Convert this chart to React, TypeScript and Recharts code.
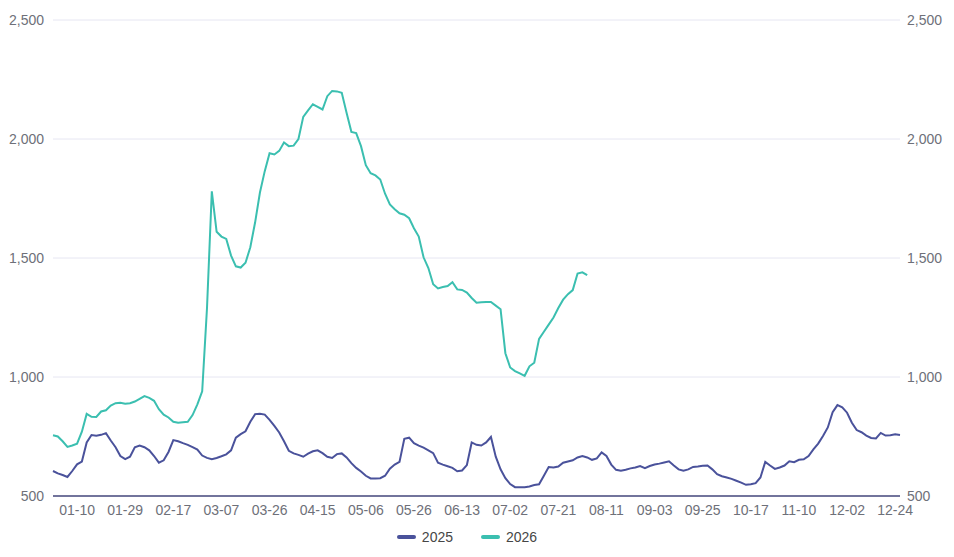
import React from "react";
import { LineChart, Line, XAxis, YAxis, CartesianGrid, Legend } from "recharts";

const dates: string[] = [
  "01-01","01-03","01-05","01-06","01-08","01-10",
  "01-12","01-14","01-16","01-18","01-20","01-21","01-23","01-25","01-27","01-29",
  "01-31","02-02","02-04","02-06","02-08","02-09","02-11","02-13","02-15","02-17",
  "02-19","02-21","02-22","02-24","02-26","02-28","03-02","03-03","03-05","03-07",
  "03-09","03-11","03-13","03-15","03-17","03-18","03-20","03-22","03-24","03-26",
  "03-28","03-30","04-01","04-03","04-05","04-07","04-09","04-11","04-13","04-15",
  "04-17","04-19","04-21","04-23","04-25","04-28","04-30","05-02","05-04","05-06",
  "05-08","05-10","05-12","05-14","05-16","05-18","05-20","05-22","05-24","05-26",
  "05-28","05-30","05-31","06-02","06-04","06-06","06-08","06-09","06-11","06-13",
  "06-15","06-17","06-19","06-21","06-23","06-24","06-26","06-28","06-30","07-02",
  "07-04","07-06","07-08","07-10","07-12","07-13","07-15","07-17","07-19","07-21",
  "07-23","07-25","07-27","07-29","07-31","08-03","08-05","08-07","08-09","08-11",
  "08-13","08-16","08-18","08-20","08-22","08-25","08-27","08-29","09-01","09-03",
  "09-05","09-07","09-10","09-12","09-14","09-16","09-18","09-21","09-23","09-25",
  "09-27","09-29","10-02","10-04","10-06","10-08","10-10","10-13","10-15","10-17",
  "10-19","10-22","10-24","10-27","10-29","10-31","11-03","11-05","11-08","11-10",
  "11-12","11-14","11-17","11-19","11-21","11-23","11-25","11-28","11-30","12-02",
  "12-04","12-06","12-09","12-11","12-13","12-15","12-17","12-20","12-22","12-24",
  "12-26",
];

const series2025: number[] = [
  605,595,588,580,605,633,645,725,756,753,
  757,764,733,705,668,655,665,705,712,705,
  692,668,640,650,685,735,730,722,715,705,
  695,670,660,655,660,667,675,692,745,760,
  772,812,844,846,842,820,795,767,730,690,
  679,673,665,678,688,692,680,665,660,676,
  679,662,638,618,603,585,574,574,575,585,
  615,632,643,740,745,722,712,703,692,680,
  640,632,625,618,604,607,630,725,715,712,
  725,748,665,612,575,550,537,537,537,540,
  546,549,585,622,620,624,640,645,650,662,
  668,662,652,658,683,668,632,610,606,610,
  616,620,626,617,626,632,636,641,646,628,
  612,606,612,622,624,627,628,612,592,583,
  578,572,564,556,547,549,554,578,643,628,
  614,620,628,646,642,652,654,668,696,720,
  752,788,852,882,873,850,808,777,768,754,
  744,742,765,754,755,759,756,
];

const series2026: number[] = [
  755,750,730,706,712,720,770,845,833,832,
  855,860,880,890,892,888,890,897,908,920,
  912,900,865,842,830,812,808,810,812,840,
  885,940,1290,1780,1610,1590,1580,1510,1465,1460,
  1480,1545,1650,1775,1865,1940,1935,1950,1985,1970,
  1972,2000,2093,2120,2146,2135,2124,2180,2202,2200,
  2194,2110,2030,2025,1970,1890,1856,1847,1830,1770,
  1725,1705,1688,1682,1667,1625,1590,1503,1458,1390,
  1372,1378,1382,1398,1368,1366,1355,1332,1312,1314,
  1315,1315,1300,1285,1100,1040,1025,1015,1005,1045,
  1060,1160,1190,1220,1250,1290,1325,1348,1365,1435,
  1440,1428,
];

const tickLabels: string[] = [
  "01-10","01-29","02-17","03-07","03-26","04-15","05-06","05-26","06-13",
  "07-02","07-21","08-11","09-03","09-25","10-17","11-10","12-02","12-24",
];

const yTicks: number[] = [500, 1000, 1500, 2000, 2500];

const seriesNames = ["2025", "2026"];
const seriesColors = ["#4a529b", "#3bbfb0"];

const data = dates.map((d, i) => ({
  i,
  date: d,
  y2025: series2025[i],
  y2026: i < series2026.length ? series2026[i] : undefined,
}));

const tickIdx = tickLabels.map((l) => dates.indexOf(l));

const fmt = (v: number) => v.toLocaleString("en-US");

const tickStyle = { fill: "#6e7079", fontSize: 14, fontFamily: "'Liberation Sans', Arial, sans-serif" };

const LegendContent = () => (
  <div
    style={{
      display: "flex",
      justifyContent: "center",
      alignItems: "center",
      marginLeft: -20,
      marginTop: 4,
      fontFamily: "'Liberation Sans', Arial, sans-serif",
      fontSize: 14,
      color: "#464646",
    }}
  >
    {seriesNames.map((n, k) => (
      <div key={n} style={{ display: "flex", alignItems: "center", marginRight: k === 0 ? 28 : 0 }}>
        <div
          style={{
            width: 19,
            height: 4,
            borderRadius: 2,
            background: seriesColors[k],
            marginRight: 6,
          }}
        />
        <span>{n}</span>
      </div>
    ))}
  </div>
);

export default function App() {
  return (
    <div style={{ width: 938, height: 541 }}>
      <LineChart
        width={938}
        height={541}
        data={data}
        margin={{ top: 12, right: 0, bottom: 0, left: 0 }}
      >
        <CartesianGrid horizontal vertical={false} stroke="#e6e6f2" yAxisId="left" />
        <XAxis
          dataKey="i"
          type="number"
          domain={[0, dates.length - 1]}
          ticks={tickIdx}
          interval={0}
          tickFormatter={(v: number) => dates[v]}
          tick={tickStyle}
          tickLine={false}
          tickSize={6}
          tickMargin={3}
          axisLine={{ stroke: "#72749c", strokeWidth: 2 }}
          height={29}
        />
        <YAxis
          yAxisId="left"
          domain={[500, 2500]}
          ticks={yTicks}
          allowDataOverflow
          tickFormatter={fmt}
          tick={tickStyle}
          axisLine={false}
          tickLine={false}
          tickSize={6}
          tickMargin={3}
          width={45}
        />
        <YAxis
          yAxisId="right"
          orientation="right"
          domain={[500, 2500]}
          ticks={yTicks}
          allowDataOverflow
          tickFormatter={fmt}
          tick={tickStyle}
          axisLine={false}
          tickLine={false}
          tickSize={6}
          tickMargin={1}
          width={46}
        />
        <Legend verticalAlign="bottom" height={24} content={<LegendContent />} />
        <Line
          yAxisId="left"
          type="linear"
          dataKey="y2025"
          name="2025"
          stroke={seriesColors[0]}
          strokeWidth={2}
          dot={false}
          isAnimationActive={false}
        />
        <Line
          yAxisId="right"
          type="linear"
          dataKey="y2026"
          name="2026"
          stroke={seriesColors[1]}
          strokeWidth={2}
          dot={false}
          isAnimationActive={false}
        />
      </LineChart>
    </div>
  );
}
